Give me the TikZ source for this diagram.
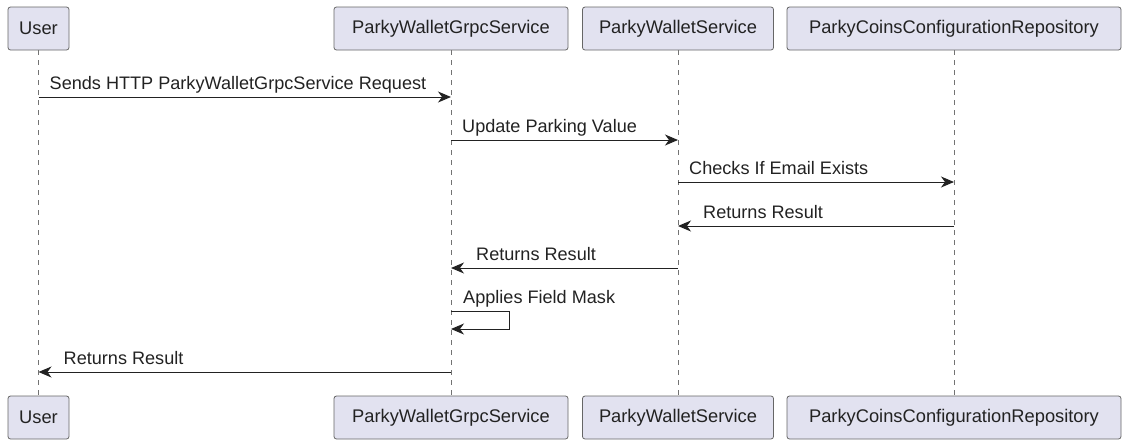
\documentclass[tikz,border=0pt]{standalone}
\usepackage{fontspec}
\setmainfont{Liberation Sans}
\usetikzlibrary{arrows.meta}
\definecolor{boxfill}{HTML}{E2E2F0}
\definecolor{ink}{HTML}{222222}
\tikzset{
	actor/.style={draw=black!60, line width=0.8pt, fill=boxfill, rounded corners=2.5pt, minimum height=43pt, inner sep=0pt, text=ink, font=\fontsize{18.3}{21}\selectfont},
	lifeline/.style={draw=black!55, line width=0.8pt, dash pattern=on 5pt off 5pt},
	msg/.style={draw=ink, line width=1pt, -{Stealth[length=13pt, width=11pt, inset=4pt]}},
	msgtext/.style={anchor=base west, inner sep=0pt, text=ink, font=\fontsize{18.1}{21}\selectfont}
}

\begin{document}
\begin{tikzpicture}[x=1pt, y=-1pt]
			%%%%% START %%%%%
			\useasboundingbox (0, 0) rectangle (1122, 440);
			
			% participants, top row
			\node[actor, minimum width=61pt] (usertop) at (38.5, 28.5) {User};
			\node[actor, minimum width=234pt] (grpctop) at (451, 28.5) {ParkyWalletGrpcService};
			\node[actor, minimum width=191pt] (wallettop) at (678, 28.5) {ParkyWalletService};
			\node[actor, minimum width=334pt] (repotop) at (954, 28.5) {ParkyCoinsConfigurationRepository};
			
			% participants, bottom row
			\node[actor, minimum width=61pt] (userbot) at (38.5, 417.5) {User};
			\node[actor, minimum width=234pt] (grpcbot) at (451, 417.5) {ParkyWalletGrpcService};
			\node[actor, minimum width=191pt] (walletbot) at (678, 417.5) {ParkyWalletService};
			\node[actor, minimum width=334pt] (repobot) at (954, 417.5) {ParkyCoinsConfigurationRepository};
			
			% lifelines
			\draw[lifeline] (usertop) -- (userbot);
			\draw[lifeline] (grpctop) -- (grpcbot);
			\draw[lifeline] (wallettop) -- (walletbot);
			\draw[lifeline] (repotop) -- (repobot);
			
			% message rows
			\coordinate (m1) at (0, 97);
			\coordinate (m2) at (0, 140);
			\coordinate (m3) at (0, 182);
			\coordinate (m4) at (0, 226);
			\coordinate (m5) at (0, 268);
			\coordinate (m6) at (0, 311);
			\coordinate (m6b) at (0, 329);
			\coordinate (m7) at (0, 372);
			\coordinate (loopx) at (509, 0);
			
			\draw[msg] (usertop |- m1) -- (grpctop |- m1);
			\node[msgtext] (t1) at ([xshift=11pt, yshift=8pt]usertop |- m1) {Sends HTTP ParkyWalletGrpcService Request};
			
			\draw[msg] (grpctop |- m2) -- (wallettop |- m2);
			\node[msgtext] (t2) at ([xshift=11pt, yshift=8pt]grpctop |- m2) {Update Parking Value};
			
			\draw[msg] (wallettop |- m3) -- (repotop |- m3);
			\node[msgtext] (t3) at ([xshift=11pt, yshift=8pt]wallettop |- m3) {Checks If Email Exists};
			
			\draw[msg] (repotop |- m4) -- (wallettop |- m4);
			\node[msgtext] (t4) at ([xshift=25pt, yshift=8pt]wallettop |- m4) {Returns Result};
			
			\draw[msg] (wallettop |- m5) -- (grpctop |- m5);
			\node[msgtext] (t5) at ([xshift=25pt, yshift=8pt]grpctop |- m5) {Returns Result};
			
			\draw[msg] (grpctop |- m6) -- (loopx |- m6) -- (loopx |- m6b) -- (grpctop |- m6b);
			\node[msgtext] (t6) at ([xshift=12pt, yshift=8pt]grpctop |- m6) {Applies Field Mask};
			
			\draw[msg] (grpctop |- m7) -- (usertop |- m7);
			\node[msgtext] (t7) at ([xshift=25pt, yshift=8pt]usertop |- m7) {Returns Result};
			%%%%% END %%%%%
\end{tikzpicture}
\end{document}
